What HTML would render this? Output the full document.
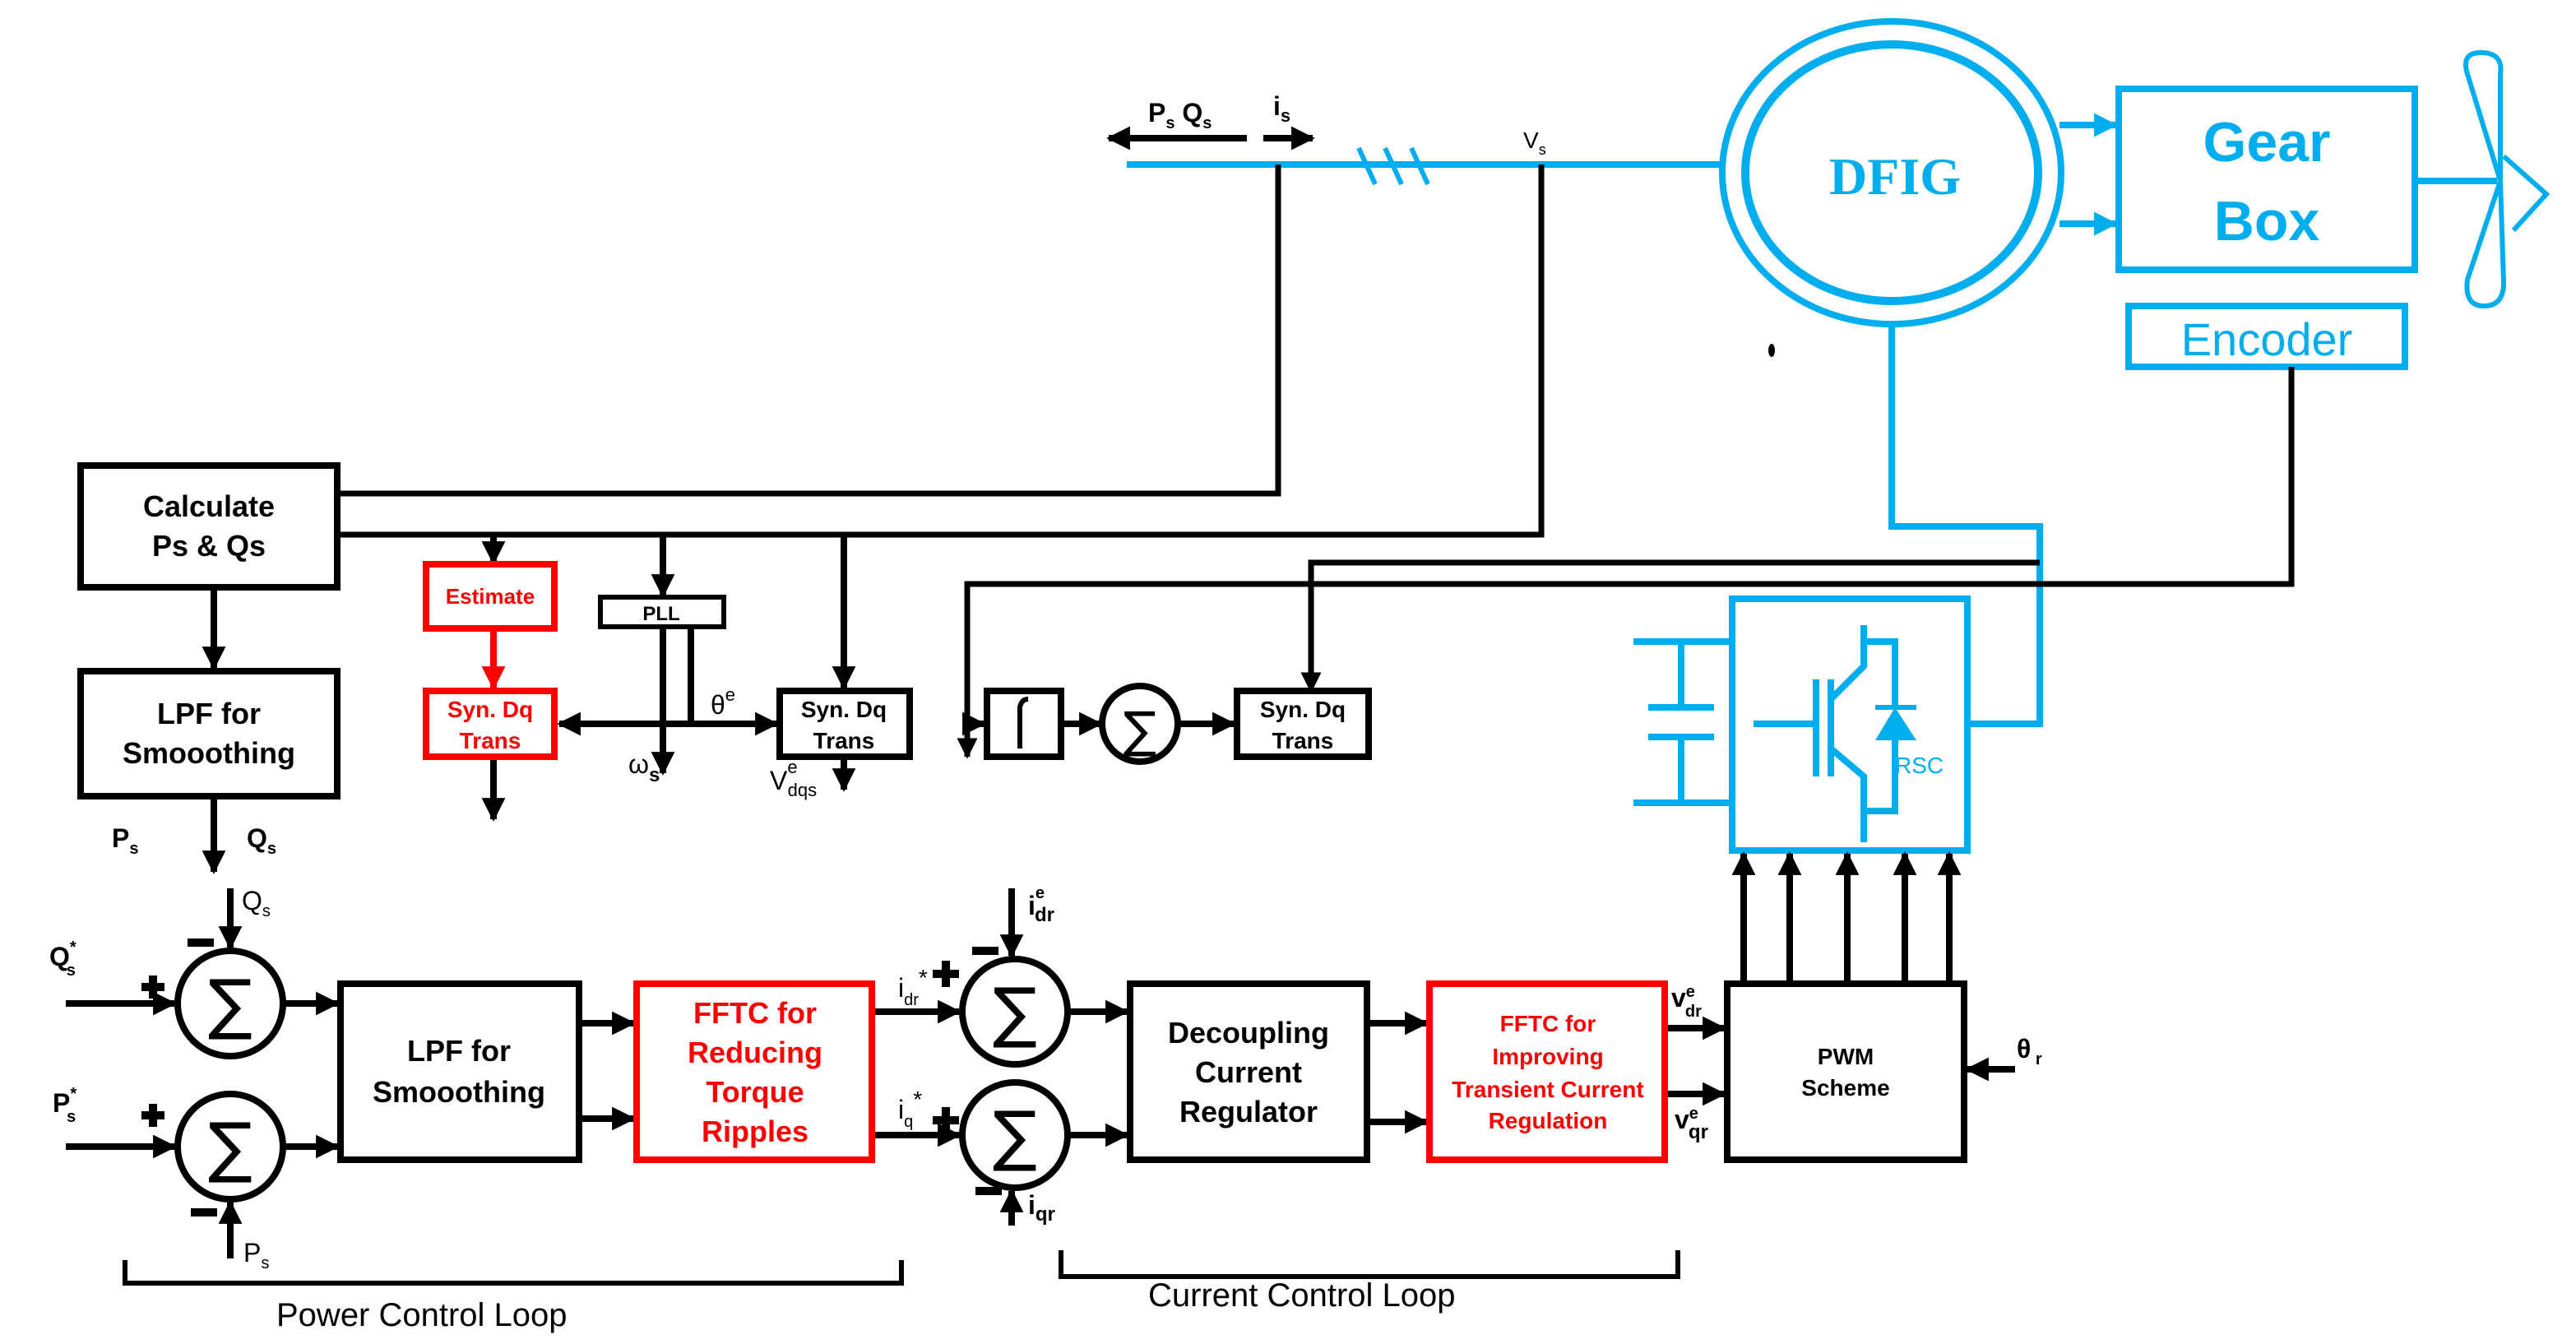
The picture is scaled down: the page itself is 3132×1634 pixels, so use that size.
<!DOCTYPE html>
<html><head><meta charset="utf-8"><style>html,body{margin:0;padding:0;background:#fff}svg{display:block}</style></head>
<body>
<svg width="3132" height="1634" viewBox="0 0 1566 817" xmlns="http://www.w3.org/2000/svg" font-family="Liberation Sans, sans-serif">
<defs>
<marker id="a" viewBox="0 0 10 10" refX="9" refY="5" markerWidth="3.6" markerHeight="3.6" orient="auto" markerUnits="strokeWidth"><path d="M0,0L10,5L0,10z" fill="#000"/></marker>
<marker id="ar" viewBox="0 0 10 10" refX="9" refY="5" markerWidth="3.6" markerHeight="3.6" orient="auto" markerUnits="strokeWidth"><path d="M0,0L10,5L0,10z" fill="#f00"/></marker>
<marker id="ab" viewBox="0 0 10 10" refX="9" refY="5" markerWidth="3.6" markerHeight="3.6" orient="auto" markerUnits="strokeWidth"><path d="M0,0L10,5L0,10z" fill="#00AEEF"/></marker>
</defs>
<g fill="none" stroke="#00AEEF" stroke-width="4">
<line x1="685" y1="100" x2="1048" y2="100"/>
<path d="M826,90 l10,22 M842,90 l10,22 M858,90 l10,22" stroke-width="3"/>
<ellipse cx="1150" cy="105" rx="103" ry="92"/>
<ellipse cx="1150" cy="105" rx="89" ry="78" stroke-width="5"/>
<rect x="1288" y="54" width="180" height="110"/>
<rect x="1294" y="186" width="168" height="37"/>
<line x1="1252" y1="76" x2="1286" y2="76" marker-end="url(#ab)"/>
<line x1="1252" y1="136" x2="1286" y2="136" marker-end="url(#ab)"/>
<line x1="1468" y1="110" x2="1518" y2="110"/>
<path d="M1520,110 L1500,45 Q1496,32 1508,32 Q1522,32 1520,45 Z" stroke-width="3"/>
<path d="M1520,110 L1500,170 Q1498,186 1510,186 Q1522,186 1522,172 Z" stroke-width="3"/>
<path d="M1522,95 L1548,118 L1528,140" stroke-width="3"/>
<path d="M1150,197 V320 H1240 V440 H1196"/>
<rect x="1053" y="364" width="143" height="153"/>
<path d="M993,390 H1053 M993,488 H1053 M1022,390 V430 M1022,448 V488 M1002,430 H1042 M1002,448 H1042"/>
<path d="M1066,440 H1102 M1104,413 V472 M1113,413 V472 M1113,425 L1133,405 V380 M1113,455 L1133,472 V512 M1133,390 H1152 V430 M1152,450 V493 H1133"/>
</g>
<path d="M1140,450 H1165 L1152,430 Z" fill="#00AEEF"/>
<line x1="1140" y1="430" x2="1165" y2="430" stroke="#00AEEF" stroke-width="3"/>
<text x="1152" y="470" font-size="14" fill="#00AEEF">RSC</text>
<text x="1152" y="118" font-size="32" font-weight="bold" fill="#00AEEF" text-anchor="middle" font-family="Liberation Serif, serif">DFIG</text>
<text x="1378" y="98" font-size="34" font-weight="bold" fill="#00AEEF" text-anchor="middle">Gear</text>
<text x="1378" y="146" font-size="34" font-weight="bold" fill="#00AEEF" text-anchor="middle">Box</text>
<text x="1378" y="216" font-size="28" fill="#00AEEF" text-anchor="middle">Encoder</text>
<ellipse cx="1077" cy="213" rx="2" ry="4" fill="#000"/>

<g fill="none" stroke="#000" stroke-width="4">
<line x1="758" y1="84" x2="674" y2="84" marker-end="url(#a)"/>
<line x1="768" y1="84" x2="798" y2="84" marker-end="url(#a)"/>
<path d="M777,100 V300 H205" stroke-width="3.5"/>
<path d="M937,100 V325 H205" stroke-width="3.5"/>
<path d="M1393,223 V355 H588 V460" stroke-width="3.5" marker-end="url(#a)"/>
<path d="M1240,342 H797 V420" stroke-width="3.5" marker-end="url(#a)"/>
<rect x="49" y="283" width="156" height="74"/>
<rect x="49" y="408" width="156" height="76"/>
<line x1="130" y1="357" x2="130" y2="406" marker-end="url(#a)"/>
<line x1="130" y1="484" x2="130" y2="530" marker-end="url(#a)"/>
<line x1="300" y1="325" x2="300" y2="342" marker-end="url(#a)"/>
<line x1="403" y1="325" x2="403" y2="362" marker-end="url(#a)"/>
<line x1="513" y1="325" x2="513" y2="418" marker-end="url(#a)"/>
<rect x="365" y="363" width="75" height="18" stroke-width="3"/>
<path d="M403,381 V470" marker-end="url(#a)"/>
<path d="M420,381 V440"/>
<line x1="403" y1="440" x2="340" y2="440" marker-end="url(#a)"/>
<line x1="403" y1="440" x2="472" y2="440" marker-end="url(#a)"/>
<rect x="474" y="420" width="79" height="40"/>
<line x1="513" y1="460" x2="513" y2="480" marker-end="url(#a)"/>
<line x1="300" y1="460" x2="300" y2="498" marker-end="url(#a)"/>
<rect x="600" y="420" width="45" height="40"/>
<path d="M620,455 V430 Q621,425 625,425" stroke-width="3"/>
<line x1="590" y1="440" x2="598" y2="440" marker-end="url(#a)"/>
<line x1="645" y1="440" x2="669" y2="440" marker-end="url(#a)"/>
<circle cx="693" cy="440" r="23"/>
<line x1="716" y1="440" x2="750" y2="440" marker-end="url(#a)"/>
<rect x="752" y="420" width="80" height="40"/>

<circle cx="140" cy="610" r="32"/>
<circle cx="140" cy="697" r="32"/>
<line x1="40" y1="610" x2="106" y2="610" marker-end="url(#a)"/>
<line x1="40" y1="697" x2="106" y2="697" marker-end="url(#a)"/>
<line x1="140" y1="540" x2="140" y2="576" marker-end="url(#a)"/>
<line x1="140" y1="765" x2="140" y2="731" marker-end="url(#a)"/>
<line x1="172" y1="610" x2="205" y2="610" marker-end="url(#a)"/>
<line x1="172" y1="697" x2="205" y2="697" marker-end="url(#a)"/>
<rect x="207" y="598" width="145" height="107"/>
<line x1="352" y1="622" x2="385" y2="622" marker-end="url(#a)"/>
<line x1="352" y1="680" x2="385" y2="680" marker-end="url(#a)"/>
<line x1="530" y1="615" x2="583" y2="615" marker-end="url(#a)"/>
<line x1="530" y1="690" x2="583" y2="690" marker-end="url(#a)"/>
<circle cx="617" cy="615" r="32"/>
<circle cx="617" cy="690" r="32"/>
<line x1="615" y1="540" x2="615" y2="581" marker-end="url(#a)"/>
<line x1="615" y1="745" x2="615" y2="724" marker-end="url(#a)"/>
<line x1="649" y1="615" x2="685" y2="615" marker-end="url(#a)"/>
<line x1="649" y1="690" x2="685" y2="690" marker-end="url(#a)"/>
<rect x="687" y="598" width="144" height="107"/>
<line x1="831" y1="622" x2="867" y2="622" marker-end="url(#a)"/>
<line x1="831" y1="682" x2="867" y2="682" marker-end="url(#a)"/>
<line x1="1012" y1="625" x2="1048" y2="625" marker-end="url(#a)"/>
<line x1="1012" y1="665" x2="1048" y2="665" marker-end="url(#a)"/>
<rect x="1050" y="598" width="144" height="107"/>
<line x1="1225" y1="650" x2="1196" y2="650" marker-end="url(#a)"/>
<line x1="1060" y1="598" x2="1060" y2="519" marker-end="url(#a)"/>
<line x1="1088" y1="598" x2="1088" y2="519" marker-end="url(#a)"/>
<line x1="1123" y1="598" x2="1123" y2="519" marker-end="url(#a)"/>
<line x1="1158" y1="598" x2="1158" y2="519" marker-end="url(#a)"/>
<line x1="1185" y1="598" x2="1185" y2="519" marker-end="url(#a)"/>
<path d="M76,766 V780 H548 V766" stroke-width="3"/>
<path d="M645,760 V776 H1020 V760" stroke-width="3"/>
<path d="M86,600 H100 M93,593 V607 M86,678 H100 M93,671 V685 M114,573 H130 M116,737 H132 M567,592 H583 M575,584 V600 M567,681 H583 M575,673 V689 M591,578 H607 M593,724 H609" stroke-width="5"/>
</g>
<g fill="none" stroke="#f00" stroke-width="4">
<rect x="259" y="343" width="78" height="39"/>
<line x1="300" y1="382" x2="300" y2="418" marker-end="url(#ar)"/>
<rect x="259" y="420" width="78" height="40"/>
<rect x="387" y="598" width="143" height="107"/>
<rect x="869" y="598" width="143" height="107"/>
</g>
<g fill="#000" font-weight="bold" text-anchor="middle">
<text x="127" y="314" font-size="18">Calculate</text>
<text x="127" y="338" font-size="18">Ps &amp; Qs</text>
<text x="127" y="440" font-size="18">LPF for</text>
<text x="127" y="464" font-size="18">Smooothing</text>
<text x="402" y="377" font-size="12">PLL</text>
<text x="513" y="436" font-size="14">Syn. Dq</text>
<text x="513" y="455" font-size="14">Trans</text>
<text x="792" y="436" font-size="14">Syn. Dq</text>
<text x="792" y="455" font-size="14">Trans</text>
<text x="279" y="645" font-size="18">LPF for</text>
<text x="279" y="670" font-size="18">Smooothing</text>
<text x="759" y="634" font-size="18">Decoupling</text>
<text x="759" y="658" font-size="18">Current</text>
<text x="759" y="682" font-size="18">Regulator</text>
<text x="1122" y="647" font-size="14">PWM</text>
<text x="1122" y="666" font-size="14">Scheme</text>
</g>
<g fill="#f00" font-weight="bold" text-anchor="middle">
<text x="298" y="367" font-size="13">Estimate</text>
<text x="298" y="436" font-size="14">Syn. Dq</text>
<text x="298" y="455" font-size="14">Trans</text>
<text x="459" y="622" font-size="18">FFTC for</text>
<text x="459" y="646" font-size="18">Reducing</text>
<text x="459" y="670" font-size="18">Torque</text>
<text x="459" y="694" font-size="18">Ripples</text>
<text x="941" y="627" font-size="14">FFTC for</text>
<text x="941" y="647" font-size="14">Improving</text>
<text x="941" y="667" font-size="14">Transient Current</text>
<text x="941" y="686" font-size="14">Regulation</text>
</g>
<g fill="#000" font-size="16">
<text x="698" y="74" font-weight="bold">P<tspan font-size="10" dy="4">s</tspan><tspan dy="-4"> Q</tspan><tspan font-size="10" dy="4">s</tspan></text>
<text x="774" y="70" font-weight="bold">i<tspan font-size="11" dy="4">s</tspan></text>
<text x="926" y="90" font-size="14">V<tspan font-size="9" dy="4">s</tspan></text>
<text x="432" y="434">θ<tspan font-size="11" dy="-8">e</tspan></text>
<text x="382" y="470">ω<tspan font-size="12" font-weight="bold" dy="5">s</tspan></text>
<text x="468" y="480">V<tspan font-size="11" dy="-10">e</tspan><tspan font-size="11" dx="-6" dy="14">dqs</tspan></text>
<text x="68" y="515" font-weight="bold">P<tspan font-size="10" dy="4">s</tspan></text>
<text x="150" y="515" font-weight="bold">Q<tspan font-size="10" dy="4">s</tspan></text>
<text x="147" y="553">Q<tspan font-size="10" dy="4">s</tspan></text>
<text x="30" y="587" font-weight="bold">Q<tspan font-size="10" dy="-8">*</tspan><tspan font-size="10" dx="-6" dy="14">s</tspan></text>
<text x="32" y="676" font-weight="bold">P<tspan font-size="10" dy="-8">*</tspan><tspan font-size="10" dx="-6" dy="14">s</tspan></text>
<text x="148" y="767">P<tspan font-size="10" dy="4">s</tspan></text>
<text x="546" y="606">i<tspan font-size="10" dy="5">dr</tspan><tspan font-size="14" dy="-12">*</tspan></text>
<text x="546" y="680">i<tspan font-size="10" dy="5">q</tspan><tspan font-size="14" dy="-12">*</tspan></text>
<text x="625" y="556" font-weight="bold">i<tspan font-size="10" dy="-10">e</tspan><tspan font-size="12" dx="-6" dy="14">dr</tspan></text>
<text x="625" y="738" font-weight="bold">i<tspan font-size="12" dy="4">qr</tspan></text>
<text x="1016" y="612" font-weight="bold">v<tspan font-size="10" dy="-6">e</tspan><tspan font-size="10" dx="-6" dy="12">dr</tspan></text>
<text x="1018" y="686" font-weight="bold">v<tspan font-size="10" dy="-6">e</tspan><tspan font-size="12" dx="-6" dy="12">qr</tspan></text>
<text x="1226" y="643" font-weight="bold">θ<tspan font-size="10" dy="4"> r</tspan></text>
<text x="168" y="806" font-size="20">Power Control Loop</text>
<text x="698" y="794" font-size="20">Current Control Loop</text>
</g>
<g font-size="40" text-anchor="middle" fill="#000" font-family="DejaVu Sans, sans-serif">
<text x="140" y="624">∑</text><text x="140" y="711">∑</text>
<text x="617" y="629">∑</text><text x="617" y="704">∑</text>
<text x="693" y="454" font-size="30">∑</text>
</g>
</svg>
</body></html>
